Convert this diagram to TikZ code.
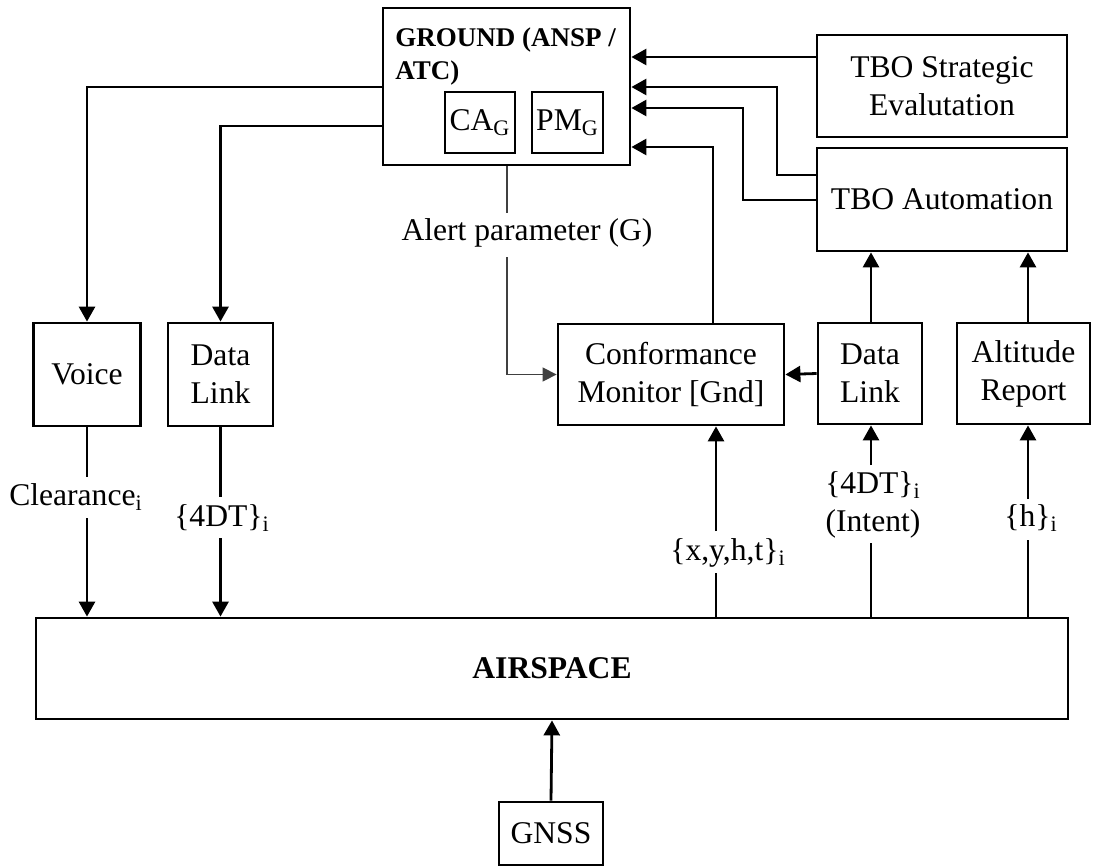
\documentclass[tikz,border=0pt]{standalone}
\usepackage{fontspec}
\setmainfont{Liberation Serif}
\usetikzlibrary{arrows.meta}
\begin{document}
\begin{tikzpicture}[x=0.5pt,y=-0.5pt,
 box/.style={draw,line width=1.4pt,inner sep=0pt,align=center,font=\fontsize{15.8}{19}\selectfont},
 lbl/.style={inner sep=0pt,align=center,font=\fontsize{15.8}{19}\selectfont},
 con/.style={line width=1.4pt},
 arr/.style={con,-{Triangle[length=7.5pt,width=8pt]}},
 alertline/.style={line width=0.7pt,black!75},
 alertarr/.style={alertline,-{Triangle[length=7pt,width=7pt]}}]
\useasboundingbox (0,0) rectangle (1093,867);
% boxes
\node[box,minimum width=123.5pt,minimum height=78.5pt] (ground) at (506.5,86.5) {};
\node[font=\bfseries\fontsize{13.5}{16.5}\selectfont,align=left,anchor=north west,inner sep=0pt] (gtitle) at (395,27) {GROUND (ANSP /\\ATC)};
\node[box,minimum width=35pt,minimum height=30.5pt] (ca) at (480,122.5) {CA\textsubscript{G}};
\node[box,minimum width=35.5pt,minimum height=30.5pt] (pm) at (567.5,122.5) {PM\textsubscript{G}};
\node[box,minimum width=125pt,minimum height=51pt] (strat) at (942,86) {TBO Strategic\\Evalutation};
\node[box,minimum width=125pt,minimum height=51.5pt] (auto) at (942,199.5) {TBO Automation};
\node[box,minimum width=53.5pt,minimum height=51.5pt] (voice) at (87,374.5) {Voice};
\node[box,minimum width=52.5pt,minimum height=51.5pt] (dl1) at (220.5,374.5) {Data\\Link};
\node[box,minimum width=113pt,minimum height=50.5pt] (cm) at (671,374.5) {Conformance\\Monitor [Gnd]};
\node[box,minimum width=52pt,minimum height=50.5pt] (dl2) at (870,373.5) {Data\\Link};
\node[box,minimum width=66.5pt,minimum height=50.5pt] (alt) at (1023.5,373.5) {Altitude\\Report};
\node[box,minimum width=516pt,minimum height=50.5pt,font=\bfseries\fontsize{15.8}{19}\selectfont] (air) at (552,668.5) {AIRSPACE};
\node[box,minimum width=52pt,minimum height=31.5pt] (gnss) at (551,833.5) {GNSS};
% labels
\node[lbl] (lclr) at (76,497) {Clearance\textsubscript{i}};
\node[lbl] (l4dt1) at (222,518) {\{4DT\}\textsubscript{i}};
\node[lbl] (lxyht) at (728,553) {\{x,y,h,t\}\textsubscript{i}};
\node[lbl] (l4dt2) at (873,505) {\{4DT\}\textsubscript{i}\\(Intent)};
\node[lbl] (lh) at (1031,518) {\{h\}\textsubscript{i}};
\node[lbl] (lalert) at (527,233) {Alert parameter (G)};
% connectors into ground
\draw[arr] (strat.west |- 0,57) -- (ground.east |- 0,57);
\draw[arr] (auto.west |- 0,175) -| (777,87) -- (ground.east |- 0,87);
\draw[arr] (auto.west |- 0,200) -| (743,108) -- (ground.east |- 0,108);
\draw[arr] (713,0 |- cm.north) |- (ground.east |- 0,147);
% ground to voice / data link
\draw[arr] (ground.west |- 0,87) -| (voice.north);
\draw[arr] (ground.west |- 0,126) -| (dl1.north);
% down to airspace
\draw[con] (voice.south) -- (voice.south |- 0,477);
\draw[arr] (voice.south |- 0,518) -- (voice.south |- air.north);
\draw[con] (dl1.south) -- (dl1.south |- 0,497);
\draw[arr] (dl1.south |- 0,538) -- (dl1.south |- air.north);
% up from airspace
\draw[con] (716,0 |- air.north) -- (716,573);
\draw[arr] (716,531) -- (716,0 |- cm.south);
\draw[con] (871,0 |- air.north) -- (871,543);
\draw[arr] (871,465) -- (871,0 |- dl2.south);
\draw[con] (1028,0 |- air.north) -- (1028,540);
\draw[arr] (1028,499) -- (1028,0 |- alt.south);
% others
\draw[arr] (dl2.west) -- (cm.east);
\draw[arr] (871,0 |- dl2.north) -- (871,0 |- auto.south);
\draw[arr] (1028,0 |- alt.north) -- (1028,0 |- auto.south);
\draw[arr] (gnss.north) -- (air.south);
% alert parameter
\draw[alertline] (507,0 |- ground.south) -- (507,213);
\draw[alertarr] (507,257) |- (cm.west);
\end{tikzpicture}
\end{document}
